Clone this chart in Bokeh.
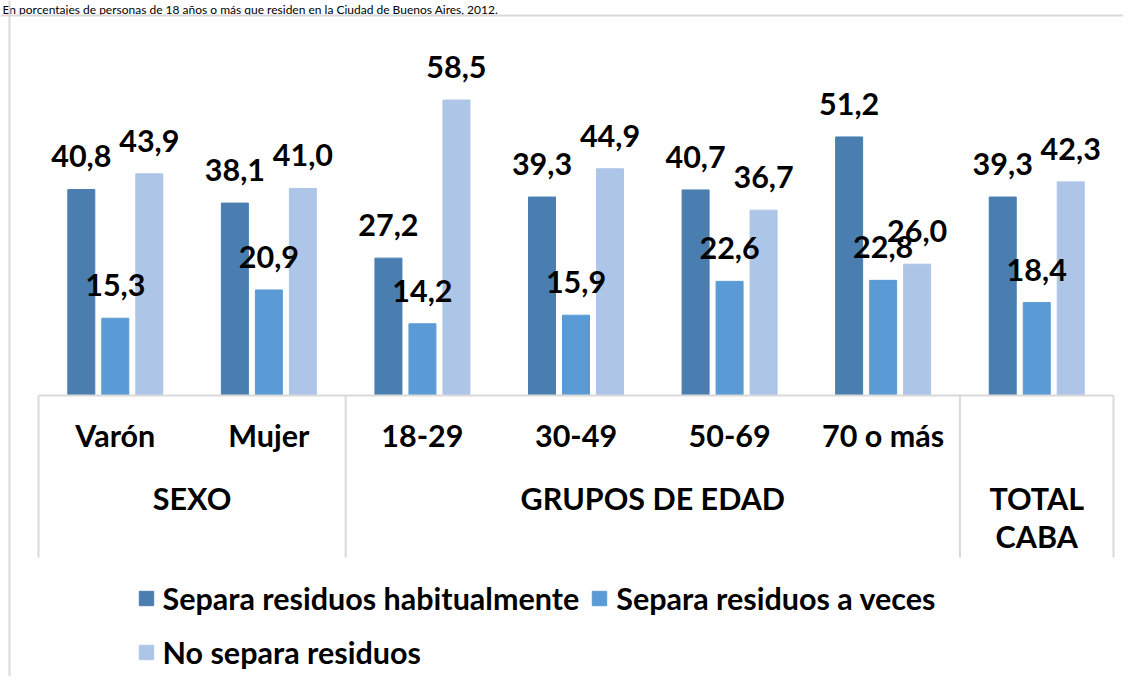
from bokeh.plotting import figure
from bokeh.models import (ColumnDataSource, Range1d, LinearAxis, FixedTicker, Legend,
                          LegendItem, Span)
from bokeh.transform import dodge
from bokeh.core.properties import value
from bokeh.embed import file_html
from bokeh.resources import INLINE

# ---------------- data ----------------
title_text = "En porcentajes de personas de 18 años o más que residen en la Ciudad de Buenos Aires, 2012."
categories = ["Varón", "Mujer", "18-29", "30-49", "50-69", "70 o más", ""]
groups = ["SEXO", "GRUPOS DE EDAD", "TOTAL\nCABA"]
group_of = [0, 0, 1, 1, 1, 1, 2]
habitual = [40.8, 38.1, 27.2, 39.3, 40.7, 51.2, 39.3]
a_veces = [15.3, 20.9, 14.2, 15.9, 22.6, 22.8, 18.4]
no_separa = [43.9, 41.0, 58.5, 44.9, 36.7, 26.0, 42.3]
series_names = ["Separa residuos habitualmente", "Separa residuos a veces", "No separa residuos"]
colors = ["#4a7eb0", "#5b9bd5", "#adc5e6"]

def fmt(v):
    return f"{v:.1f}".replace(".", ",")

idx = list(range(len(categories)))
src = ColumnDataSource(dict(
    x=idx, h=habitual, v=a_veces, n=no_separa,
    lh=[fmt(v) for v in habitual], lv=[fmt(v) for v in a_veces], ln=[fmt(v) for v in no_separa],
))

# ---------------- layout constants (pixels) ----------------
W, H = 1123, 676            # figure size
CAT_PX = 153.57             # pixels per category
X0_PX = 114.8               # x of first category center, relative to figure left
Y0_PX = 395                 # y of value 0, relative to figure top
PX_PER_UNIT = 5.05
BAR_W = 27 / CAT_PX
OFF = 34 / CAT_PX
FS = "30.5px"

x_range = Range1d((0 - X0_PX) / CAT_PX, (W - X0_PX) / CAT_PX)
y_range = Range1d(-(H - Y0_PX) / PX_PER_UNIT, Y0_PX / PX_PER_UNIT)

p = figure(width=W, height=H, x_range=x_range, y_range=y_range,
           x_axis_type=None, y_axis_type=None, output_backend="svg",
           toolbar_location=None, min_border=0)
p.outline_line_color = None
p.xgrid.visible = False
p.ygrid.visible = False
p.background_fill_color = "white"

FONT = value("Lato")
GRAY = "#d9d9d9"

# small title line above the box
p.text(x=[(2 - X0_PX) / CAT_PX], y=[Y0_PX / PX_PER_UNIT], text=[title_text],
       text_align="left", text_baseline="top", y_offset=1, text_font=FONT,
       text_font_size="12px", text_color="black")

# outer box (left + top)
p.add_layout(Span(location=(9 - X0_PX) / CAT_PX, dimension="height", line_color=GRAY, line_width=2))
p.add_layout(Span(location=(Y0_PX - 15) / PX_PER_UNIT, dimension="width", line_color=GRAY, line_width=2))

# bars
cols = ["h", "v", "n"]
labs = ["lh", "lv", "ln"]
offs = [-OFF, 0, OFF]
renderers = []
for c, o, col in zip(cols, offs, colors):
    r = p.vbar(x=dodge("x", o, range=p.x_range), top=c, bottom=0, width=BAR_W, source=src,
               fill_color=col, line_color=col, line_width=1)
    renderers.append(r)
for c, l, o in zip(cols, labs, offs):
    p.text(x=dodge("x", o, range=p.x_range), y=c, text=l, source=src,
           text_align="center", text_baseline="alphabetic", y_offset=-33, text_font=FONT,
           text_font_style="bold", text_font_size=FS, text_color="black")

# axis line and group separators
n = len(categories)
p.segment(x0=[-0.5], y0=[0], x1=[n - 0.5], y1=[0], line_color=GRAY, line_width=2)
bounds = [-0.5] + [i + 0.5 for i in range(n - 1) if group_of[i] != group_of[i + 1]] + [n - 0.5]
sep_bottom = -(557 - Y0_PX) / PX_PER_UNIT
p.segment(x0=bounds, y0=[0] * len(bounds), x1=bounds, y1=[sep_bottom] * len(bounds),
          line_color=GRAY, line_width=2)

# category axis
def style_axis(ax, standoff):
    ax.fixed_location = 0
    ax.axis_line_color = None
    ax.major_tick_line_color = None
    ax.minor_tick_line_color = None
    ax.major_label_standoff = standoff
    ax.major_label_text_font = "Lato"
    ax.major_label_text_font_style = "bold"
    ax.major_label_text_font_size = FS
    ax.major_label_text_color = "black"
    ax.major_label_text_line_height = 1.08

cat_axis = LinearAxis(ticker=FixedTicker(ticks=idx),
                      major_label_overrides={i: c for i, c in zip(idx, categories)})
style_axis(cat_axis, 15)
p.add_layout(cat_axis, "below")

group_centers = []
for g in range(len(groups)):
    members = [i for i in idx if group_of[i] == g]
    group_centers.append(sum(members) / len(members))
grp_axis = LinearAxis(ticker=FixedTicker(ticks=group_centers),
                      major_label_overrides={c: g for c, g in zip(group_centers, groups)})
style_axis(grp_axis, 78)
p.add_layout(grp_axis, "below")

# legends
def make_legend(items, loc):
    lg = Legend(items=items, orientation="horizontal", location=loc,
                glyph_width=18, glyph_height=18, label_standoff=8, spacing=11,
                padding=0, margin=0, border_line_color=None, background_fill_alpha=0,
                label_text_font="Lato", label_text_font_style="bold",
                label_text_font_size=FS, label_text_color="black", label_height=18)
    p.add_layout(lg, "center")
    return lg

make_legend([LegendItem(label=series_names[0], renderers=[renderers[0]]),
             LegendItem(label=series_names[1], renderers=[renderers[1]])], (136.5, 60))
make_legend([LegendItem(label=series_names[2], renderers=[renderers[2]])], (136.5, 6))

open("out.html", "w").write(file_html(p, INLINE))
